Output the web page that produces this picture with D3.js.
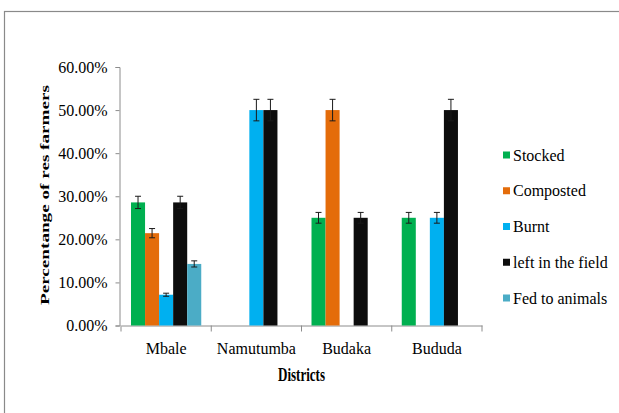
<!DOCTYPE html>
<html>
<head>
<meta charset="utf-8">
<script src="https://cdn.jsdelivr.net/npm/d3@7"></script>
<style>
  html, body { margin: 0; padding: 0; background: #fff; }
  svg { display: block; }
</style>
</head>
<body>
<svg id="chart" width="619" height="413"></svg>
<script>
// Districts on the x axis
const districts = ["Mbale", "Namutumba", "Budaka", "Bududa"];

// Residue handling practices (series)
const practices = ["Stocked", "Composted", "Burnt", "left in the field", "Fed to animals"];
const colors = ["#00b050", "#e46c0a", "#00b0f0", "#0d0d0d", "#4bacc6"];

// Percentage of respondent farmers, one array per district, in practice order
const mbale     = [28.57, 21.43, 7.14, 28.57, 14.29];
const namutumba = [0, 0, 50, 50, 0];
const budaka    = [25, 50, 0, 25, 0];
const bududa    = [25, 0, 25, 50, 0];
const seriesByDistrict = [mbale, namutumba, budaka, bududa];

// Error bars are a fixed percentage of each value
const errorPercent = 5;

// Y axis tick values (percent)
const yTicks = [0, 10, 20, 30, 40, 50, 60];

const serif = "'Liberation Serif', 'Times New Roman', Times, serif";
const svg = d3.select("#chart").attr("font-family", serif);
const axisColor = "#8c8c8c";

// Outer chart-area border
svg.append("rect")
  .attr("x", 4.5).attr("y", 11.5)
  .attr("width", 700).attr("height", 500)
  .attr("fill", "none").attr("stroke", "#8a8a8a").attr("stroke-width", 1.2);

const plotLeft = 121, plotRight = 482, plotTop = 67, plotBottom = 325.5;

const x = d3.scaleBand().domain(districts).range([plotLeft, plotRight]).padding(0);
const inner = d3.scaleBand().domain(practices)
  .range([10, x.bandwidth() - 10]).padding(0);
const y = d3.scaleLinear().domain([0, 60]).range([plotBottom, plotTop]);

// Y axis
const yAxis = svg.append("g")
  .attr("transform", `translate(${plotLeft - 1.5},0)`)
  .call(d3.axisLeft(y).tickValues(yTicks).tickSize(4).tickPadding(8)
    .tickFormat(d => d.toFixed(2) + "%"));
yAxis.attr("font-family", serif).attr("font-size", 16);
yAxis.select(".domain").attr("stroke", axisColor);
yAxis.selectAll(".tick line").attr("stroke", axisColor);
yAxis.selectAll(".tick text").style("font-family", serif).style("font-size", "16px").attr("fill", "#000");

// X axis
const xAxis = svg.append("g")
  .attr("transform", `translate(0,${plotBottom})`)
  .call(d3.axisBottom(x).tickSize(0).tickPadding(17).tickSizeOuter(0));
xAxis.attr("font-family", serif).attr("font-size", 16);
xAxis.select(".domain").attr("stroke", axisColor);
xAxis.selectAll(".tick text").style("font-family", serif).style("font-size", "16px").attr("fill", "#000");
// Category separators
const boundaries = districts.map(d => x(d)).concat([x.range()[1]]);
xAxis.selectAll("line.sep").data(boundaries).join("line")
  .attr("class", "sep")
  .attr("x1", d => d).attr("x2", d => d)
  .attr("y1", 0).attr("y2", 6)
  .attr("stroke", axisColor);

// Bars
const groups = svg.append("g").selectAll("g")
  .data(districts.map((d, i) => ({ district: d, values: seriesByDistrict[i] })))
  .join("g")
  .attr("transform", d => `translate(${x(d.district)},0)`);

const items = groups.selectAll("g.item")
  .data(d => d.values.map((v, j) => ({ practice: practices[j], value: v, color: colors[j] }))
    .filter(e => e.value > 0))
  .join("g").attr("class", "item");

items.append("rect")
  .attr("x", d => inner(d.practice))
  .attr("width", inner.bandwidth())
  .attr("y", d => y(d.value))
  .attr("height", d => y(0) - y(d.value))
  .attr("fill", d => d.color);

// Error bars
const err = d => d.value * errorPercent / 100;
const cx = d => inner(d.practice) + inner.bandwidth() / 2;
items.append("line")
  .attr("x1", cx).attr("x2", cx)
  .attr("y1", d => y(d.value + err(d))).attr("y2", d => y(d.value - err(d)))
  .attr("stroke", "#1a1a1a").attr("stroke-width", 1);
[1, -1].forEach(s => {
  items.append("line")
    .attr("x1", d => cx(d) - 3).attr("x2", d => cx(d) + 3)
    .attr("y1", d => y(d.value + s * err(d))).attr("y2", d => y(d.value + s * err(d)))
    .attr("stroke", "#1a1a1a").attr("stroke-width", 1);
});

// Axis titles
svg.append("text")
  .attr("transform", "translate(49,195) rotate(-90)")
  .attr("text-anchor", "middle")
  .attr("textLength", 220).attr("lengthAdjust", "spacingAndGlyphs")
  .style("font-family", serif)
  .style("font-size", "13px").style("font-weight", "bold")
  .text("Percentange of res farmers");

svg.append("text")
  .attr("x", (plotLeft + plotRight) / 2).attr("y", 380.5)
  .attr("text-anchor", "middle")
  .attr("textLength", 47).attr("lengthAdjust", "spacingAndGlyphs")
  .style("font-family", serif)
  .style("font-size", "18px").style("font-weight", "bold")
  .text("Districts");

// Legend
const legendY = d3.scalePoint().domain(practices).range([155, 298]);
const legend = svg.append("g").selectAll("g")
  .data(practices.map((p, i) => ({ p, c: colors[i] })))
  .join("g")
  .attr("transform", d => `translate(503,${legendY(d.p)})`);
legend.append("rect")
  .attr("x", 0).attr("y", -3.5).attr("width", 7).attr("height", 7)
  .attr("fill", d => d.c);
legend.append("text")
  .attr("x", 10).attr("y", 5.5)
  .style("font-family", serif)
  .style("font-size", "16px")
  .text(d => d.p);
</script>
</body>
</html>
